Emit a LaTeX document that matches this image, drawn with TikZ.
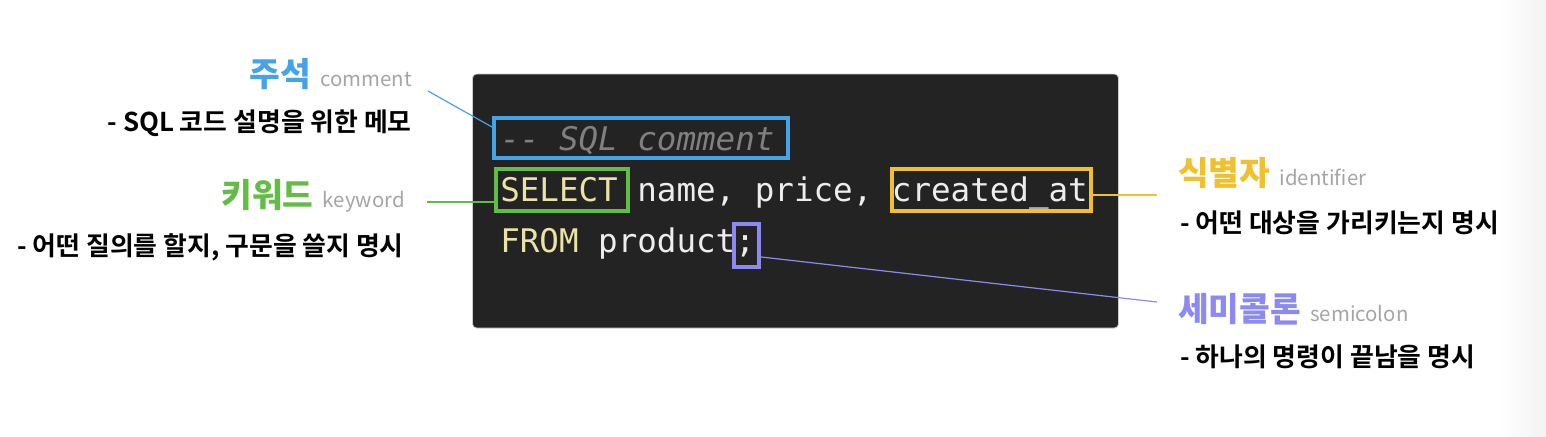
\documentclass[tikz,border=0pt]{standalone}
\usepackage{fontspec}
\usepackage{tikz}
\usetikzlibrary{positioning}
\setmainfont{Noto Sans CJK KR}
\newfontfamily\krfont{Noto Sans CJK KR}[BoldFont={* Bold}]
\newfontfamily\krheavy{Noto Sans CJK KR Black}
\newfontfamily\codefont{DejaVu Sans Mono}

\definecolor{cmtblue}{HTML}{45A3E8}
\definecolor{kwgreen}{HTML}{62BD45}
\definecolor{idyellow}{HTML}{F0C02F}
\definecolor{semipurple}{HTML}{8A8AF0}
\definecolor{engray}{HTML}{A5A5A5}
\definecolor{editorbg}{HTML}{232323}
\definecolor{kwyellow}{HTML}{EAE3A4}
\definecolor{codewhite}{HTML}{EDEDED}
\definecolor{cmtgray}{HTML}{808080}

\tikzset{
  editor/.style={fill=editorbg, draw=black!20, line width=0.6pt, rounded corners=3pt,
    minimum width=484.5pt, minimum height=190.5pt, inner sep=0pt},
  frame/.style={draw, line width=3pt, inner sep=0pt},
  lead/.style={line width=0.9pt},
  title/.style={font=\krheavy\fontsize{25}{30}\selectfont, inner sep=0pt},
  desc/.style={font=\krfont\bfseries\fontsize{19.4}{23}\selectfont, inner sep=0pt, text=black},
  code/.style={font=\codefont\fontsize{24.4}{29}\selectfont, inner sep=0pt, anchor=base west, text=codewhite},
}
\newcommand{\engl}[1]{{\krfont\mdseries\fontsize{15.3}{18}\selectfont\color{engray}#1}}

\begin{document}
\begin{tikzpicture}[x=0.75pt, y=-0.75pt]
  \useasboundingbox (0,0) rectangle (1546,436);
  \fill[left color=white, right color=black!5] (1500,0) rectangle (1546,436);

  % code editor
  \node[editor] (editor) at (795.5,201) {};
  \node[code] (ln1) at (500,150) {\itshape\textcolor{cmtgray}{-{}- SQL comment}};
  \node[code] (ln2) at (500,201) {\textcolor{kwyellow}{SELECT} name, price, created\_at};
  \node[code] (ln3) at (500,252) {\textcolor{kwyellow}{FROM} product;};

  % highlight frames
  \node[frame, draw=cmtblue, minimum width=220.5pt, minimum height=30pt] (cmt) at (641,138) {};
  \node[frame, draw=kwgreen, minimum width=99pt, minimum height=31.5pt] (kw) at (562,190) {};
  \node[frame, draw=idyellow, minimum width=149.25pt, minimum height=31.5pt] (ident) at (991.5,190) {};
  \node[frame, draw=semipurple, minimum width=18.75pt, minimum height=32.25pt] (semi) at (746.5,245.5) {};

  % labels, left
  \node[title, anchor=base east] (cmtlbl) at (412,86) {\textcolor{cmtblue}{주석}\hspace{7pt}\engl{comment}};
  \node[desc, anchor=base east] (cmtdesc) at (412,131) {- SQL 코드 설명을 위한 메모};
  \node[title, anchor=base east] (kwlbl) at (405,207) {\textcolor{kwgreen}{키워드}\hspace{7pt}\engl{keyword}};
  \node[desc, anchor=base east] (kwdesc) at (404,255) {- 어떤 질의를 할지, 구문을 쓸지 명시};

  % labels, right
  \node[title, anchor=base west] (idlbl) at (1178,185) {\textcolor{idyellow}{식별자}\hspace{7pt}\engl{identifier}};
  \node[desc, anchor=base west] (iddesc) at (1180,232) {- 어떤 대상을 가리키는지 명시};
  \node[title, anchor=base west] (semilbl) at (1178,321) {\textcolor{semipurple}{세미콜론}\hspace{7pt}\engl{semicolon}};
  \node[desc, anchor=base west] (semidesc) at (1180,366) {- 하나의 명령이 끝남을 명시};

  % leader lines
  \coordinate (cmtstart) at (428,91);
  \coordinate (kwstart) at (427,202);
  \coordinate (idend) at (1157,195);
  \coordinate (semiend) at (1157,302);
  \draw[lead, cmtblue] (cmtstart) -- ([yshift=8.25pt]cmt.west);
  \draw[lead, kwgreen] (kwstart) -- ([yshift=-9pt]kw.west);
  \draw[lead, idyellow] ([yshift=-3.75pt]ident.east) -- (idend);
  \draw[lead, semipurple] ([yshift=-8.6pt]semi.east) -- (semiend);
\end{tikzpicture}
\end{document}
